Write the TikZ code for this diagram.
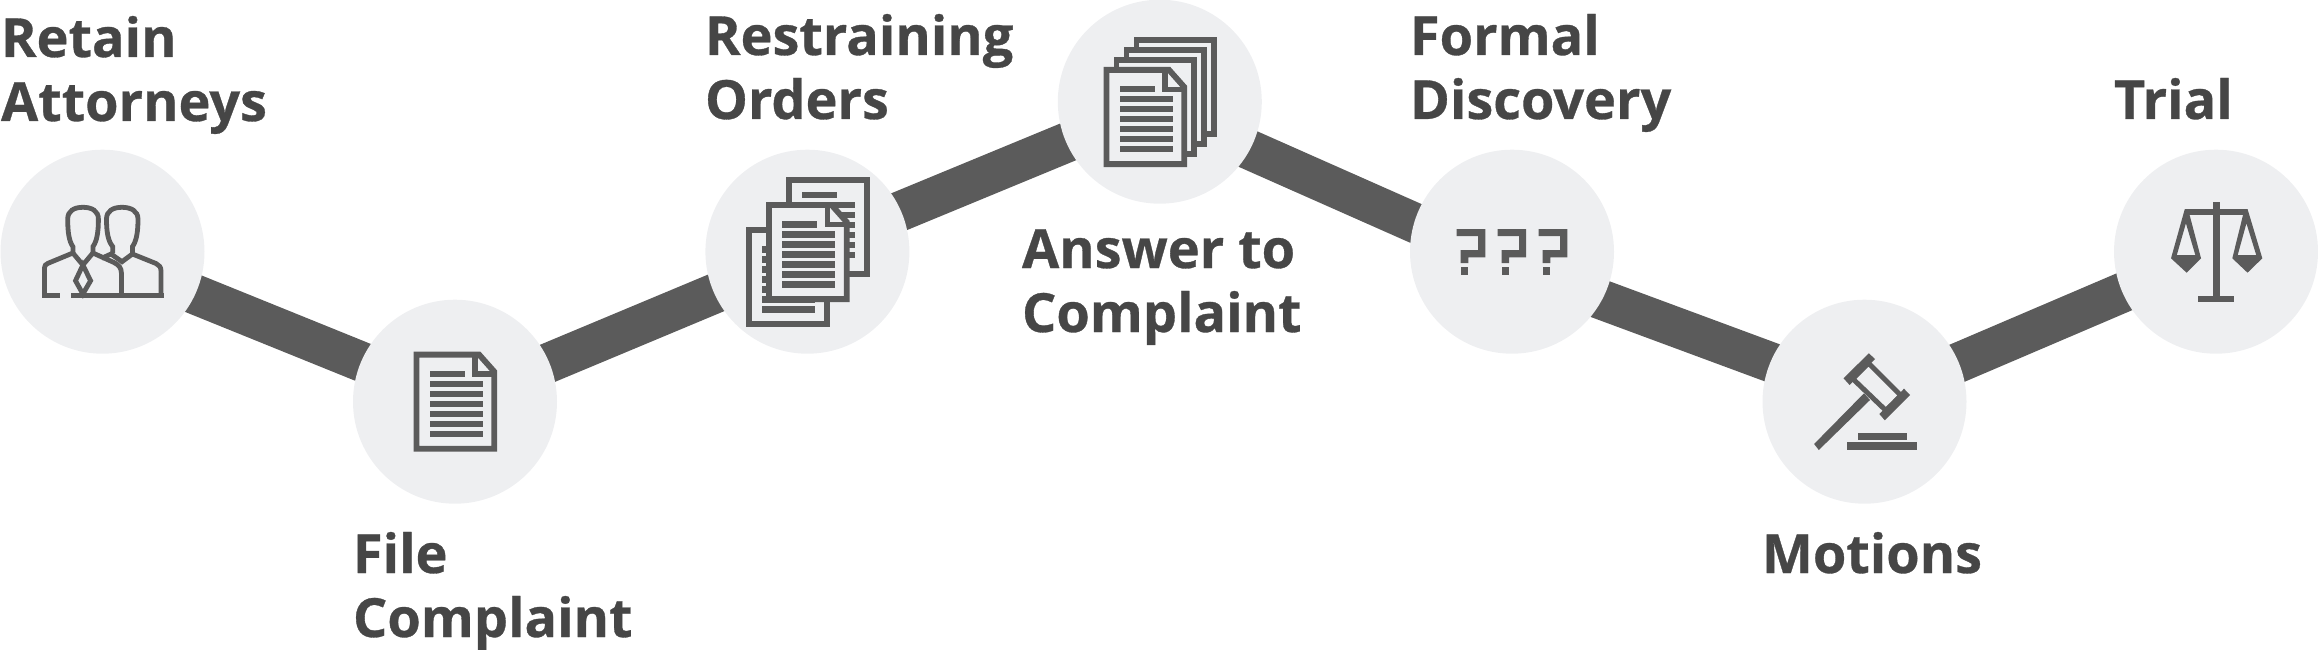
\documentclass[tikz,border=0pt]{standalone}
\usepackage{fontspec}
\setmainfont[BoldFeatures={FakeBold=0.6}]{Open Sans}
\usetikzlibrary{backgrounds}
\definecolor{circlegray}{HTML}{EEEFF1}
\definecolor{linegray}{HTML}{5B5B5B}
\definecolor{labelgray}{HTML}{464646}
\tikzset{
  stepcirc/.style={circle, fill=circlegray, minimum size=204pt, inner sep=0pt, outer sep=0pt},
  steplink/.style={draw=linegray, line width=40pt},
  steplabel/.style={anchor=base west, align=left, inner sep=0pt, outer sep=0pt, text=labelgray,
    font=\fontsize{54}{64}\selectfont\bfseries},
  iconline/.style={draw=linegray, line width=5.8pt},
  thinline/.style={draw=linegray, line width=4.8pt},
  pagerows/.pic={
    \fill[linegray] (16.4,#1-3.2) rectangle (51.4,#1+3.2);
    \foreach \r in {1,...,6}{
      \fill[linegray] (16.4,#1+10*\r-3.2) rectangle (69.4,#1+10*\r+3.2);
    }
  },
  plainpage/.pic={
    \draw[iconline, fill=circlegray] (2.9,2.9) rectangle (80.7,97.1);
  },
  foldpage/.pic={
    \draw[iconline, fill=circlegray] (2.9,2.9) -- (65.5,2.9) -- (80.7,20) -- (80.7,97.1) -- (2.9,97.1) -- cycle;
    \draw[iconline] (61.5,2.9) -- (61.5,22.5) -- (80.7,22.5);
    \pic at (0,0) {pagerows=22.3};
  },
  queryicon/.pic={
    \fill[linegray] (0,0) -- (28.6,0) -- (28.6,28.3) -- (11.6,28.3) -- (11.6,34) -- (4,34) -- (4,21) -- (21.4,21) -- (21.4,7) -- (0,7) -- cycle;
    \fill[linegray] (4,38) rectangle (11.6,46);
  }
}
\begin{document}
\begin{tikzpicture}[x=1pt,y=-1pt]
\useasboundingbox (0,0) rectangle (2318,650);
\node[stepcirc] (retaincirc) at (102.5,251.7){};
\node[stepcirc] (filecirc) at (455,401.7){};
\node[stepcirc] (ordercirc) at (807.4,251.7){};
\node[stepcirc] (answercirc) at (1159.8,101.7){};
\node[stepcirc] (discocirc) at (1512,251.7){};
\node[stepcirc] (motioncirc) at (1864.5,401.7){};
\node[stepcirc] (trialcirc) at (2216,251.7){};
\begin{scope}[on background layer]
\draw[steplink]([yshift=-5.2pt]retaincirc.center) -- ([yshift=2.1pt]filecirc.center);
\draw[steplink]([yshift=-0.3pt]filecirc.center) -- ([yshift=-3pt]ordercirc.center);
\draw[steplink]([yshift=2.1pt]ordercirc.center) -- ([yshift=-2.3pt]answercirc.center);
\draw[steplink]([yshift=-8.3pt]answercirc.center) -- ([yshift=-14.3pt]discocirc.center);
\draw[steplink]([yshift=-14.8pt]discocirc.center) -- ([yshift=4.7pt]motioncirc.center);
\draw[steplink]([yshift=-1.1pt]motioncirc.center) -- ([yshift=-0.9pt]trialcirc.center);
\end{scope}
\node[steplabel] (retainlbl) at (1,121){Retain\\Attorneys};
\node[steplabel] (filelbl) at (353,637){File\\Complaint};
\node[steplabel] (orderlbl) at (705,119){Restraining\\Orders};
\node[steplabel] (answerlbl) at (1022,332){Answer to\\Complaint};
\node[steplabel] (discolbl) at (1410,119){Formal\\Discovery};
\node[steplabel] (motionlbl) at (1762,573){Motions};
\node[steplabel] (triallbl) at (2114,119){Trial};
\draw[thinline] (72.9,255) -- (72.9,246.7) .. controls (69,241) and (67.7,232) .. (67.7,219) .. controls (67.7,211) and (74,207.3) .. (82.9,207.3) .. controls (92,207.3) and (98.4,211) .. (98.4,219) .. controls (98.4,232) and (97,241) .. (92.9,246.7) -- (92.9,255);
\draw[thinline] (112.8,253.3) -- (112.8,246.7) .. controls (108,241) and (106.5,232) .. (106.5,219) .. controls (106.5,211) and (113,207.3) .. (122,207.3) .. controls (131,207.3) and (138,211) .. (138,219) .. controls (138,232) and (136.5,241) .. (132.4,246.7) -- (132.4,255);
\draw[thinline] (44.4,295.7) -- (44.4,270) .. controls (44.4,265) and (46,264) .. (48,263.3) -- (72.9,253) -- (82.9,265) -- (92.9,253) -- (114,262.5) .. controls (119,265) and (121.4,268) .. (121.4,273) -- (121.4,295.7);
\draw[thinline] (101.7,258.3) -- (111,254) -- (122,261.7) -- (132.4,254) -- (156,263.5) .. controls (159,265) and (161,267) .. (161,271) -- (161,295.7);
\draw[thinline] (82.9,265) -- (75.5,280.7) -- (82.9,294) -- (90.6,280.7) -- cycle;
\draw[thinline] (42,295.7) -- (60,295.7);
\draw[thinline] (71,295.7) -- (163.5,295.7);
\pic at (413.6,351.7) {foldpage};
\pic at (746,227) {plainpage};
\pic at (746,227) {pagerows=22.3};
\pic at (786,177) {plainpage};
\pic at (786,177) {pagerows=18};
\pic at (766,202) {foldpage};
\pic at (1133.5,37) {plainpage};
\pic at (1123.5,47) {plainpage};
\pic at (1113.5,57) {plainpage};
\pic at (1103.5,67) {foldpage};
\pic at (1456.7,229) {queryicon};
\pic at (1497.6,229) {queryicon};
\pic at (1538.7,229) {queryicon};
\fill[linegray] (1814.1,444) -- (1818.8,450) -- (1870,400) -- (1864,393.3) -- cycle;
\draw[iconline, line width=5pt] (1868.5,363.2) -- (1901,395.7) -- (1885.9,410.5) -- (1852.7,378.7) -- cycle;
\fill[linegray] (1843.5,378.3) -- (1868.8,353.3) -- (1875,359) -- (1849.6,385) -- cycle;
\fill[linegray] (1879.3,414) -- (1904,388.7) -- (1910,395) -- (1884.8,420.3) -- cycle;
\fill[linegray] (1858,433) rectangle (1906.9,440);
\fill[linegray] (1847,442) rectangle (1917,450);
\fill[linegray] (2213,201.7) rectangle (2219.6,296);
\fill[linegray] (2198.2,296) rectangle (2234,302);
\fill[linegray] (2184.8,209) rectangle (2247,215);
\fill[linegray, even odd rule] (2184.8,209) -- (2171,258.3) -- (2186.6,272.7) -- (2201,258.3) -- (2188,209) -- cycle (2185.9,223.3) -- (2176.8,255) -- (2195.3,255) -- cycle;
\fill[linegray, even odd rule] (2247.5,209) -- (2262.3,258.3) -- (2247.5,272.7) -- (2232.3,258.3) -- (2244.5,209) -- cycle (2246.4,223.3) -- (2237.7,255) -- (2256.2,255) -- cycle;
\end{tikzpicture}
\end{document}
